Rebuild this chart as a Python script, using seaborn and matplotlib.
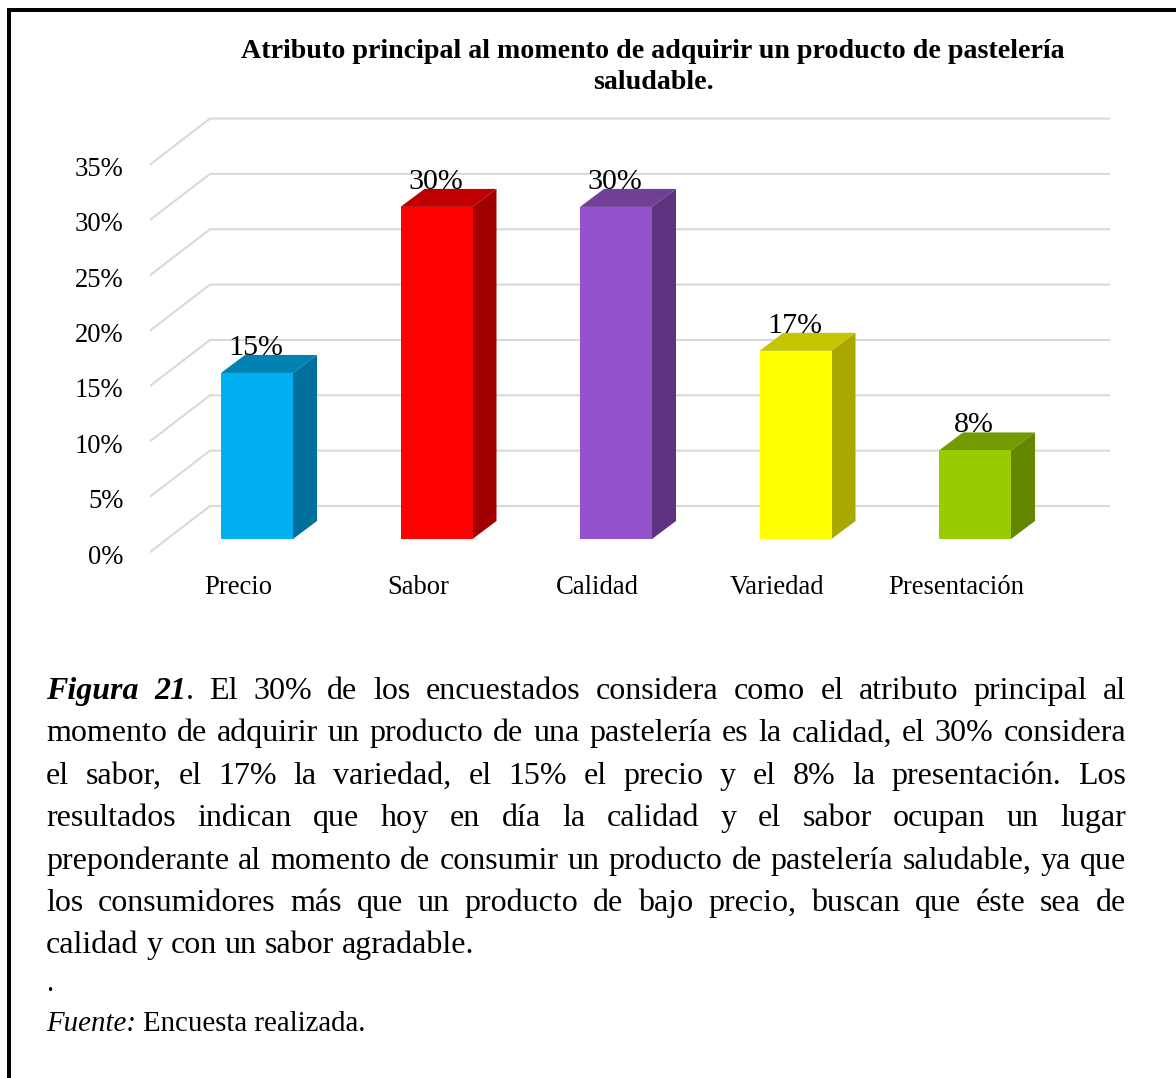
import matplotlib
matplotlib.use("Agg")
import matplotlib.pyplot as plt
from matplotlib.lines import Line2D
from matplotlib.patches import Polygon, Rectangle
from matplotlib.transforms import ScaledTranslation
import pandas as pd
import seaborn as sns

categories = ["Precio", "Sabor", "Calidad", "Variedad", "Presentación"]
values = [15, 30, 30, 17, 8]
front_colors = ["#00B0F0", "#FF0000", "#9452CC", "#FFFF00", "#99CC00"]
top_colors = ["#0082B2", "#C00000", "#713F96", "#C4C400", "#739A00"]
side_colors = ["#00709C", "#A00000", "#5F3280", "#A8A800", "#658700"]
y_ticks = [0, 5, 10, 15, 20, 25, 30, 35]
title_lines = [
    "Atributo principal al momento de adquirir un producto de pastelería",
    "saludable.",
]
caption_lines = [
    "El 30% de los encuestados considera como el atributo principal al",
    "momento de adquirir un producto de una pastelería es la calidad, el 30% considera",
    "el sabor, el 17% la variedad, el 15% el precio y el 8% la presentación. Los",
    "resultados indican que hoy en día la calidad y el sabor ocupan un lugar",
    "preponderante al momento de consumir un producto de pastelería saludable, ya que",
    "los consumidores más que un producto de bajo precio, buscan que éste sea de",
    "calidad y con un sabor agradable.",
]

W, H = 1176, 1078
SERIF = "Liberation Serif"
sns.set_style("white", {"font.family": SERIF})
plt.rcParams["font.family"] = SERIF

fig = plt.figure(figsize=(W / 100, H / 100), dpi=100, facecolor="white")

# Plot area geometry, in pixels of the saved figure
PX_LEFT, PX_RIGHT, PX_TOP, PX_BOTTOM = 150, 1110, 100, 565
PX_FIRST_BAR, PX_BAR_STEP, PX_BASE, PX_PER_PCT = 257, 179.5, 539, 11.07
ax = fig.add_axes([
    PX_LEFT / W, 1 - PX_BOTTOM / H,
    (PX_RIGHT - PX_LEFT) / W, (PX_BOTTOM - PX_TOP) / H,
])

frame = pd.DataFrame({"categoria": categories, "porcentaje": values})
sns.barplot(
    data=frame, x="categoria", y="porcentaje", hue="categoria",
    palette=front_colors, dodge=False, legend=False, width=72 / PX_BAR_STEP,
    saturation=1, ax=ax, zorder=4, linewidth=0,
)
ax.set_xlim((PX_LEFT - PX_FIRST_BAR) / PX_BAR_STEP, (PX_RIGHT - PX_FIRST_BAR) / PX_BAR_STEP)
ax.set_ylim((PX_BASE - PX_BOTTOM) / PX_PER_PCT, (PX_BASE - PX_TOP) / PX_PER_PCT)
ax.set_xlabel("")
ax.set_ylabel("")
ax.patch.set_alpha(0)
for spine in ax.spines.values():
    spine.set_visible(False)

# Extrusion of the columns
depth_x = 24 / PX_BAR_STEP
depth_y = 18 / PX_PER_PCT
bars = [p for p in ax.patches if p.get_height() > 0]
bars.sort(key=lambda p: p.get_x())
for bar, top_c, side_c in zip(bars, top_colors, side_colors):
    x0, x1 = bar.get_x(), bar.get_x() + bar.get_width()
    h = bar.get_height()
    ax.add_patch(Polygon(
        [(x0, h), (x1, h), (x1 + depth_x, h + depth_y), (x0 + depth_x, h + depth_y)],
        closed=True, facecolor=top_c, edgecolor="none", zorder=3,
    ))
    ax.add_patch(Polygon(
        [(x1, 0), (x1 + depth_x, depth_y), (x1 + depth_x, h + depth_y), (x1, h)],
        closed=True, facecolor=side_c, edgecolor="none", zorder=3,
    ))

# Back wall and side wall rules
wall_back = 33 / PX_PER_PCT
wall_front = -13 / PX_PER_PCT
x_corner = (210 - PX_FIRST_BAR) / PX_BAR_STEP
x_side = (PX_LEFT - PX_FIRST_BAR) / PX_BAR_STEP
x_end = (PX_RIGHT - PX_FIRST_BAR) / PX_BAR_STEP
for t in y_ticks:
    ax.plot(
        [x_side, x_corner, x_end],
        [t + wall_front, t + wall_back, t + wall_back],
        color="#D9D9D9", lw=1.5, zorder=1, solid_joinstyle="miter",
    )

# Axis labels sit in front of the floor, so they are shifted from the bar positions
ax.set_yticks(y_ticks, [f"{t}%" for t in y_ticks])
ax.tick_params(axis="y", length=0, pad=19, labelsize=19.2, labelcolor="black")
y_shift = ScaledTranslation(0, -18 / 100, fig.dpi_scale_trans)
for lab in ax.get_yticklabels():
    lab.set_transform(lab.get_transform() + y_shift)
    lab.set_verticalalignment("center")

ax.set_xticks(range(len(categories)), categories)
ax.tick_params(axis="x", length=0, pad=0, labelsize=19.2, labelcolor="black")
x_shift = ScaledTranslation(-18.5 / 100, -(587 - PX_BOTTOM) / 100, fig.dpi_scale_trans)
for lab in ax.get_xticklabels():
    lab.set_transform(lab.get_transform() + x_shift)
    lab.set_verticalalignment("center")

for i, v in enumerate(values):
    ax.annotate(
        f"{v}%", (i, v), xytext=(-0.7, 13.0), textcoords="offset points",
        ha="center", va="baseline", fontsize=21.6, color="black", zorder=6,
    )


def fig_text(px, py, s, **kw):
    return fig.text(px / W, 1 - py / H, s, va="baseline", color="black", **kw)


for line, baseline in zip(title_lines, [58, 89]):
    fig_text(653, baseline, line, ha="center", fontsize=20.2, fontweight="bold")

# Justified caption, placed word by word
CAP_SIZE = 23.0
SRC_SIZE = 20.8
CAP_LEFT, CAP_RIGHT = 46, 1126
CAP_BASE, CAP_STEP = 699, 42.4
renderer = fig.canvas.get_renderer()


def width_of(s, size=CAP_SIZE, **style):
    probe = fig.text(0, 0, s, fontsize=size, **style)
    w = probe.get_window_extent(renderer).width
    probe.remove()
    return w


space_w = width_of("a b") - width_of("a") - width_of("b")
lead_style = {"fontstyle": "italic", "fontweight": "bold"}
lead_words = ["Figura", "21"]
lead_widths = [width_of(w, **lead_style) for w in lead_words]
dot_w = width_of(".")

for idx, line in enumerate(caption_lines):
    base = CAP_BASE + idx * CAP_STEP
    words = line.split(" ")
    widths = [width_of(w) for w in words]
    start = CAP_LEFT
    used = sum(widths)
    gaps = len(words) - 1
    if idx == 0:
        used += sum(lead_widths) + dot_w
        gaps += 2
    justified = idx < len(caption_lines) - 1
    gap = (CAP_RIGHT - CAP_LEFT - used) / gaps if justified else space_w
    if idx == 0:
        fig_text(start, base, lead_words[0], fontsize=CAP_SIZE, **lead_style)
        start += lead_widths[0] + gap
        fig_text(start, base, lead_words[1], fontsize=CAP_SIZE, **lead_style)
        start += lead_widths[1]
        fig_text(start, base, ".", fontsize=CAP_SIZE)
        start += dot_w + gap
    for word, w in zip(words, widths):
        fig_text(start, base, word, fontsize=CAP_SIZE)
        start += w + gap

fig_text(CAP_LEFT, 991, ".", fontsize=SRC_SIZE)
src_label = "Fuente:"
fig_text(CAP_LEFT, 1031, src_label, fontsize=SRC_SIZE, fontstyle="italic")
fig_text(
    CAP_LEFT + width_of(src_label, SRC_SIZE, fontstyle="italic") + 0.25 * SRC_SIZE * 100 / 72, 1031,
    "Encuesta realizada.", fontsize=SRC_SIZE,
)

# Box around the figure, open at the right and bottom edges
fig.add_artist(Rectangle((7 / W, 0), 4 / W, 1 - 8 / H, transform=fig.transFigure,
                         facecolor="black", edgecolor="none"))
fig.add_artist(Rectangle((7 / W, 1 - 12 / H), 1 - 7 / W, 4 / H, transform=fig.transFigure,
                         facecolor="black", edgecolor="none"))

fig.savefig("out.png", dpi=100, facecolor="white")
